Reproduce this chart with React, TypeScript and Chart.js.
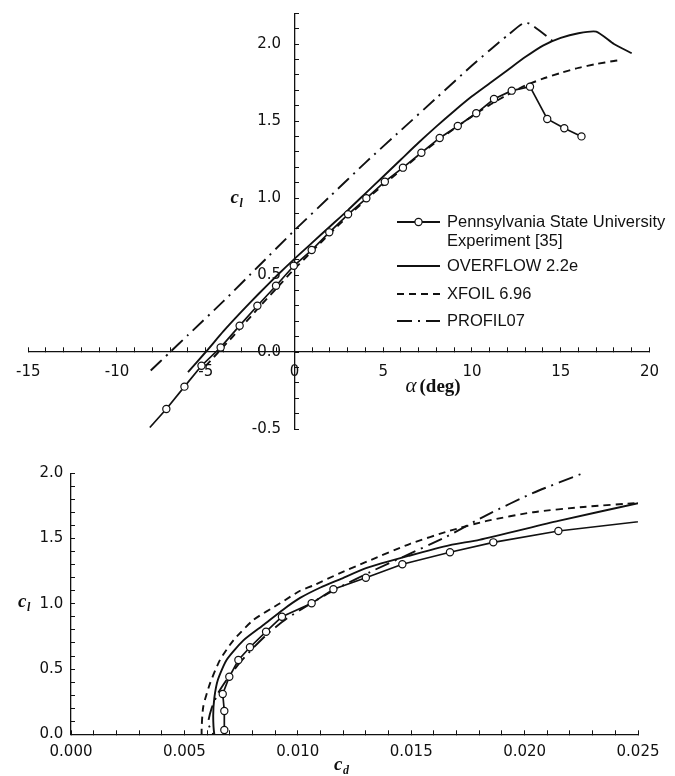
import React, { useEffect, useRef } from 'react';
import { Chart, registerables } from 'chart.js';

Chart.register(...registerables);

// ---- Lift curve: c_l versus angle of attack (deg) ----
const expAlpha = [-7.22, -6.2, -5.24, -4.16, -3.09, -2.09, -1.04, -0.04, 0.97, 1.96, 3.02, 4.05, 5.09, 6.11, 7.15, 8.18, 9.2, 10.24, 11.24, 12.24, 13.27, 14.24, 15.2, 16.17];
const expCl = [-0.37, -0.225, -0.089, 0.03, 0.171, 0.3, 0.43, 0.56, 0.662, 0.777, 0.894, 0.998, 1.106, 1.197, 1.294, 1.39, 1.468, 1.55, 1.643, 1.697, 1.723, 1.513, 1.453, 1.4];
// unmarked start of the experiment line
const expLeadAlpha = [-8.15];
const expLeadCl = [-0.49];

const overflowAlpha = [-6, -5, -4, -3, -2, -1, 0, 1, 2, 3, 4, 5, 6, 7, 8, 9, 10, 11, 12, 13, 14, 15, 16, 17, 18, 19];
const overflowCl = [-0.13, 0.0, 0.135, 0.26, 0.38, 0.495, 0.605, 0.71, 0.815, 0.92, 1.03, 1.14, 1.25, 1.36, 1.465, 1.565, 1.66, 1.745, 1.83, 1.915, 1.99, 2.04, 2.07, 2.08, 2.0, 1.94];

const xfoilAlpha = [-5, -4, -3, -2, -1, 0, 1, 2, 3, 4, 5, 6, 7, 8, 9, 10, 11, 12, 13, 14, 15, 16, 17, 18, 18.3];
const xfoilCl = [-0.09, 0.035, 0.16, 0.29, 0.415, 0.54, 0.655, 0.77, 0.88, 0.985, 1.085, 1.18, 1.275, 1.365, 1.45, 1.53, 1.605, 1.67, 1.73, 1.775, 1.812, 1.845, 1.87, 1.89, 1.895];

const profilAlpha = [-8.1, -7, -6, -4, -2, 0, 2, 4, 6, 8, 10, 11, 12, 13.05, 14.6];
const profilCl = [-0.12, 0.0, 0.11, 0.33, 0.56, 0.79, 1.01, 1.23, 1.44, 1.65, 1.86, 1.96, 2.055, 2.14, 2.015];

// ---- Drag polar: c_l versus c_d ----
const expPolarCd = [0.0068, 0.00676, 0.00676, 0.00669, 0.00698, 0.00738, 0.00789, 0.0086, 0.0093, 0.01061, 0.01157, 0.013, 0.01461, 0.01671, 0.01862, 0.02149, 0.0257];
const expPolarCl = [-0.09, 0.033, 0.179, 0.309, 0.441, 0.569, 0.667, 0.786, 0.901, 1.004, 1.111, 1.2, 1.303, 1.395, 1.471, 1.558, 1.643];

const overflowPolarCd = [0.0065, 0.00632, 0.00627, 0.00632, 0.00648, 0.00686, 0.0076, 0.0085, 0.00935, 0.0101, 0.011, 0.01186, 0.01304, 0.01495, 0.01671, 0.018, 0.02149, 0.0251];
const overflowPolarCl = [-0.1, 0.0, 0.14, 0.28, 0.42, 0.57, 0.72, 0.84, 0.955, 1.045, 1.125, 1.188, 1.275, 1.37, 1.45, 1.49, 1.635, 1.775];

const xfoilPolarCd = [0.0059, 0.00576, 0.00583, 0.00613, 0.00657, 0.00716, 0.00804, 0.00922, 0.0101, 0.01068, 0.01186, 0.01304, 0.01495, 0.01671, 0.01833, 0.02038, 0.02259, 0.02509];
const xfoilPolarCl = [-0.1, 0.0, 0.21, 0.39, 0.57, 0.72, 0.876, 1.004, 1.1, 1.14, 1.235, 1.323, 1.46, 1.56, 1.635, 1.702, 1.742, 1.775];

const profilPolarCd = [0.0064, 0.00627, 0.00605, 0.0062, 0.0065, 0.00695, 0.0075, 0.00805, 0.0087, 0.0095, 0.0106, 0.0117, 0.01333, 0.01465, 0.01656, 0.01833, 0.02038, 0.02274];
const profilPolarCl = [-0.1, 0.0, 0.084, 0.2, 0.32, 0.44, 0.56, 0.665, 0.775, 0.885, 1.005, 1.115, 1.255, 1.36, 1.515, 1.68, 1.85, 2.012];

// ---- Axes ----
const alphaRange = [-15, 20];
const liftClRange = [-0.5, 2.2];
const cdRange = [0, 0.025];
const polarClRange = [0, 2.0];

const legendLabels = [
  ['Pennsylvania State University', 'Experiment [35]'],
  ['OVERFLOW 2.2e'],
  ['XFOIL 6.96'],
  ['PROFIL07'],
];

const INK = '#111111';
const TICK_FONT = { family: "'DejaVu Sans', sans-serif", size: 15 };
const LINE_W = 1.9;
const DASH_XFOIL = [7, 5];
const DASH_PROFIL = [15, 6, 2, 6];

const pts = (xs: number[], ys: number[]) => xs.map((x, i) => ({ x, y: ys[i] }));
const isMultiple = (v: number, step: number) => Math.abs(v / step - Math.round(v / step)) < 1e-6;

function curve(label: string, data: { x: number; y: number }[], dash: number[]) {
  return {
    label,
    data,
    borderColor: INK,
    borderWidth: LINE_W,
    borderDash: dash,
    pointRadius: 0,
    tension: 0.2,
    fill: false,
  };
}

function experiment(data: { x: number; y: number }[], unmarked: number[]) {
  return {
    label: 'Experiment',
    data,
    borderColor: INK,
    borderWidth: 1.7,
    pointRadius: (c: any) => (unmarked.includes(c.dataIndex) ? 0 : 3.6),
    pointBackgroundColor: '#ffffff',
    pointBorderColor: INK,
    pointBorderWidth: 1.2,
    tension: 0,
    fill: false,
  };
}

function valueAxis(
  range: number[],
  step: number,
  labelEvery: number,
  digits: number,
  cross: any,
  showLabels: boolean,
  padding: number,
) {
  return {
    type: 'linear',
    min: range[0],
    max: range[1],
    position: cross,
    border: { display: true, color: INK, width: 1.3 },
    grid: { drawOnChartArea: false, drawTicks: true, tickLength: -5, color: INK, tickWidth: 1 },
    ticks: {
      display: showLabels,
      stepSize: step,
      autoSkip: false,
      maxRotation: 0,
      minRotation: 0,
      padding,
      color: INK,
      font: TICK_FONT,
      callback: (v: number) => (isMultiple(v, labelEvery) ? v.toFixed(digits) : ''),
    },
  };
}

// Value labels for a vertical axis drawn at x = 0, left of the axis line
function yLabels(gap: number, every: number, digits: number) {
  return {
    id: 'yLabels',
    beforeDatasetsDraw(chart: any) {
      const { ctx, scales } = chart;
      const ax = scales.x.getPixelForValue(0);
      ctx.save();
      ctx.fillStyle = INK;
      ctx.font = `${TICK_FONT.size}px ${TICK_FONT.family}`;
      ctx.textAlign = 'right';
      ctx.textBaseline = 'middle';
      for (const t of scales.y.ticks) {
        if (isMultiple(t.value, every)) {
          ctx.fillText(t.value.toFixed(digits), ax - gap, scales.y.getPixelForValue(t.value));
        }
      }
      ctx.restore();
    },
  };
}

function subscripted(ctx: any, x: number, y: number, main: string, sub: string, size: number) {
  ctx.font = `italic bold ${size}px 'Liberation Serif', serif`;
  ctx.textAlign = 'left';
  ctx.textBaseline = 'alphabetic';
  ctx.fillText(main, x, y);
  const w = ctx.measureText(main).width;
  ctx.font = `italic bold ${Math.round(size * 0.62)}px 'Liberation Serif', serif`;
  ctx.fillText(sub, x + w + 0.5, y + 4);
}

const liftDecor = {
  id: 'liftDecor',
  afterDraw(chart: any) {
    const { ctx, scales } = chart;
    const x0 = scales.x.getPixelForValue(0);
    const y0 = scales.y.getPixelForValue(0);
    ctx.save();
    ctx.fillStyle = INK;
    subscripted(ctx, x0 - 64, scales.y.getPixelForValue(1) + 4.7, 'c', 'l', 19);

    // alpha (deg)
    ctx.textBaseline = 'alphabetic';
    ctx.font = "italic 21px 'Liberation Serif', serif";
    ctx.fillText('α', x0 + 111, y0 + 40);
    ctx.font = "bold 19px 'Liberation Serif', serif";
    ctx.fillText('(deg)', x0 + 125, y0 + 40);

    // legend
    const lx0 = 397, lx1 = 440, tx = 447;
    const rows = [222, 266, 294, 321];
    const dashes = [[], [], DASH_XFOIL, DASH_PROFIL];
    ctx.strokeStyle = INK;
    ctx.lineWidth = LINE_W;
    rows.forEach((ry, i) => {
      ctx.setLineDash(dashes[i]);
      ctx.beginPath();
      ctx.moveTo(lx0, ry);
      ctx.lineTo(lx1, ry);
      ctx.stroke();
    });
    ctx.setLineDash([]);
    ctx.beginPath();
    ctx.arc((lx0 + lx1) / 2, rows[0], 3.6, 0, Math.PI * 2);
    ctx.fillStyle = '#ffffff';
    ctx.fill();
    ctx.lineWidth = 1.2;
    ctx.stroke();

    ctx.fillStyle = INK;
    ctx.font = "16.5px 'Liberation Sans', Arial, sans-serif";
    ctx.textBaseline = 'middle';
    legendLabels.forEach((lines, i) => {
      lines.forEach((t, k) => ctx.fillText(t, tx, rows[i] + k * 19.5));
    });
    ctx.restore();
  },
};

const polarDecor = {
  id: 'polarDecor',
  afterDraw(chart: any) {
    const { ctx, scales } = chart;
    const x0 = scales.x.getPixelForValue(0);
    const y0 = scales.y.getPixelForValue(0);
    ctx.save();
    ctx.fillStyle = INK;
    subscripted(ctx, x0 - 53, scales.y.getPixelForValue(1) + 3, 'c', 'l', 19);
    subscripted(ctx, scales.x.getPixelForValue(0.0116), y0 + 36, 'c', 'd', 19);
    ctx.restore();
  },
};

function liftConfig(): any {
  return {
    type: 'line',
    data: {
      datasets: [
        experiment(pts([...expLeadAlpha, ...expAlpha], [...expLeadCl, ...expCl]), [0]),
        curve('OVERFLOW 2.2e', pts(overflowAlpha, overflowCl), []),
        curve('XFOIL 6.96', pts(xfoilAlpha, xfoilCl), DASH_XFOIL),
        curve('PROFIL07', pts(profilAlpha, profilCl), DASH_PROFIL),
      ],
    },
    options: {
      responsive: false,
      animation: false,
      devicePixelRatio: 1,
      layout: { padding: { left: 24, right: 9.3, top: 13.2, bottom: 11 } },
      plugins: { legend: { display: false }, tooltip: { enabled: false } },
      scales: {
        x: valueAxis(alphaRange, 1, 5, 0, { y: 0 }, true, 16),
        y: valueAxis(liftClRange, 0.1, 0.5, 1, { x: 0 }, false, 0),
      },
    },
    plugins: [yLabels(13.5, 0.5, 1), liftDecor],
  };
}

function polarConfig(): any {
  return {
    type: 'line',
    data: {
      datasets: [
        experiment(pts(expPolarCd, expPolarCl), []),
        curve('OVERFLOW 2.2e', pts(overflowPolarCd, overflowPolarCl), []),
        curve('XFOIL 6.96', pts(xfoilPolarCd, xfoilPolarCl), DASH_XFOIL),
        curve('PROFIL07', pts(profilPolarCd, profilPolarCl), DASH_PROFIL),
      ],
    },
    options: {
      responsive: false,
      animation: false,
      devicePixelRatio: 1,
      layout: { padding: { left: 71, right: 37, top: 33.3, bottom: 41.7 } },
      plugins: { legend: { display: false }, tooltip: { enabled: false } },
      scales: {
        x: valueAxis(cdRange, 0.001, 0.005, 3, { y: 0 }, true, 13.4),
        y: valueAxis(polarClRange, 0.1, 0.5, 1, { x: 0 }, false, 0),
      },
    },
    plugins: [yLabels(7.7, 0.5, 1), polarDecor],
  };
}

export default function App() {
  const liftRef = useRef<HTMLCanvasElement>(null);
  const polarRef = useRef<HTMLCanvasElement>(null);

  useEffect(() => {
    const lift = new Chart(liftRef.current as HTMLCanvasElement, liftConfig());
    const polar = new Chart(polarRef.current as HTMLCanvasElement, polarConfig());
    return () => {
      lift.destroy();
      polar.destroy();
    };
  }, []);

  return (
    <div style={{ position: 'absolute', left: 0, top: 0, width: 675, height: 776, background: '#ffffff' }}>
      <canvas ref={liftRef} width={675} height={440} style={{ position: 'absolute', left: 0, top: 0 }} />
      <canvas ref={polarRef} width={675} height={336} style={{ position: 'absolute', left: 0, top: 440 }} />
    </div>
  );
}
